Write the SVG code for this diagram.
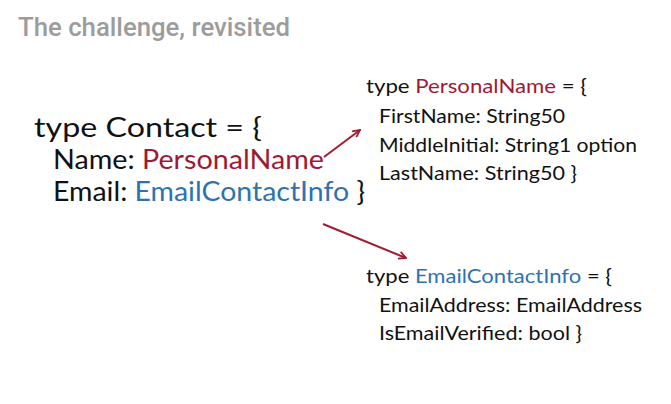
<svg xmlns="http://www.w3.org/2000/svg" width="671" height="404" viewBox="0 0 671 404">
<defs>
<style>
.title{font-family:Roboto,"Liberation Sans",Arial,sans-serif;font-weight:500;font-size:26px;fill:#9c9c9c}
.big{font-family:Lato,"Noto Sans",sans-serif;font-size:26px;fill:#111}
.sm{font-family:Lato,"Noto Sans",sans-serif;font-size:20px;fill:#111}
.r{fill:#9e1a34}
.b{fill:#2e72b2}
.conn{stroke:#a01c33;stroke-width:2;fill:none}
</style>
<marker id="ah" viewBox="0 0 10 10" refX="9" refY="5" markerWidth="9" markerHeight="9" orient="auto" markerUnits="userSpaceOnUse">
<path d="M1,1 L9,5 L1,9" fill="none" stroke="#a01c33" stroke-width="2"/>
</marker>
</defs>
<rect width="671" height="404" fill="#ffffff"/>
<text class="title" x="18" y="36" textLength="272" lengthAdjust="spacingAndGlyphs">The challenge, revisited</text>
<g id="contact">
<text class="big" x="34" y="137" textLength="228" lengthAdjust="spacingAndGlyphs">type Contact = {</text>
<text class="big" x="53" y="169" textLength="271" lengthAdjust="spacingAndGlyphs">Name: <tspan class="r">PersonalName</tspan></text>
<text class="big" x="53" y="201" textLength="312" lengthAdjust="spacingAndGlyphs">Email: <tspan class="b">EmailContactInfo</tspan> }</text>
</g>
<g id="personalname">
<text class="sm" x="366" y="93" textLength="221" lengthAdjust="spacingAndGlyphs">type <tspan class="r">PersonalName</tspan> = {</text>
<text class="sm" x="379" y="123" textLength="186" lengthAdjust="spacingAndGlyphs">FirstName: String50</text>
<text class="sm" x="379" y="152" textLength="258" lengthAdjust="spacingAndGlyphs">MiddleInitial: String1 option</text>
<text class="sm" x="379" y="180" textLength="198" lengthAdjust="spacingAndGlyphs">LastName: String50 }</text>
</g>
<g id="emailcontactinfo">
<text class="sm" x="366" y="283" textLength="246" lengthAdjust="spacingAndGlyphs">type <tspan class="b">EmailContactInfo</tspan> = {</text>
<text class="sm" x="379" y="312" textLength="263" lengthAdjust="spacingAndGlyphs">EmailAddress: EmailAddress</text>
<text class="sm" x="379" y="340" textLength="203" lengthAdjust="spacingAndGlyphs">IsEmailVerified: bool }</text>
</g>
<g id="connectors">
<line class="conn" x1="324" y1="157" x2="360" y2="130" marker-end="url(#ah)"/>
<line class="conn" x1="323" y1="224" x2="406" y2="258" marker-end="url(#ah)"/>
</g>
</svg>
